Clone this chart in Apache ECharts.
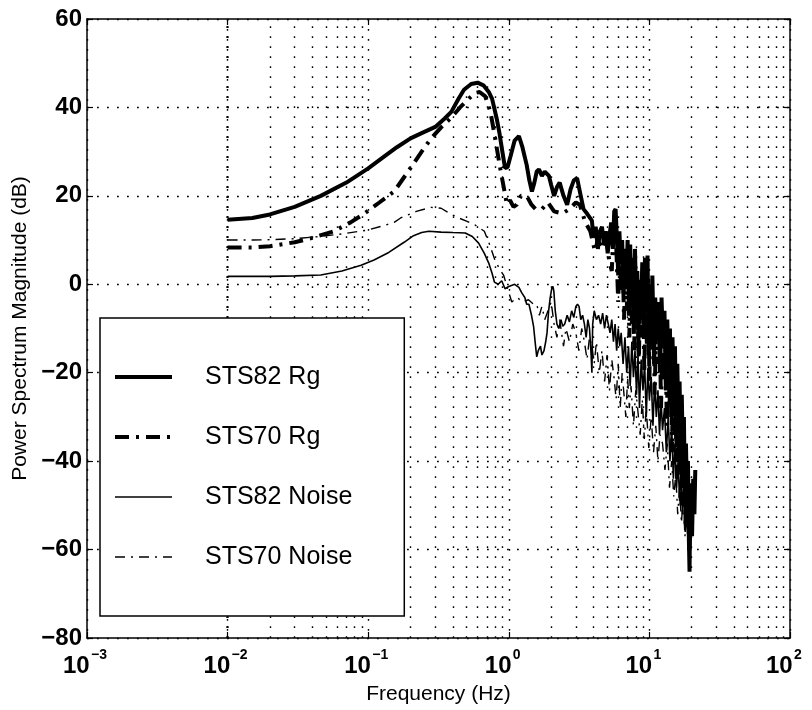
<!DOCTYPE html>
<html>
<head>
<meta charset="utf-8">
<script src="https://cdn.jsdelivr.net/npm/echarts@6/dist/echarts.min.js"></script>
<style>
html,body{margin:0;padding:0;background:#fff;}
#c{width:812px;height:710px;}
</style>
</head>
<body>
<div id="c"></div>
<script>
// ---- data ----
const yTicks = [-80, -60, -40, -20, 0, 20, 40, 60];
const xDecades = [0.001, 0.01, 0.1, 1, 10, 100];
const minorMultipliers = [2, 3, 4, 5, 6, 7, 8, 9];

const seriesNames = ['STS82 Rg', 'STS70 Rg', 'STS82 Noise', 'STS70 Noise'];

const sts82RgFreq = [0.01,0.015,0.02,0.03,0.046,0.07,0.1,0.124,0.16,0.2,0.24,0.3,0.35,0.39,0.44,0.48,0.54,0.6,0.66,0.72,0.76,0.82,0.86,0.9,0.94,0.98,1.03,1.1,1.18,1.25,1.34,1.4,1.46,1.52,1.58,1.64,1.72,1.8,1.93,2.0,2.1,2.2,2.3,2.45,2.6,2.75,2.9,3.06,3.2,3.4,3.6,3.9,
4.0,4.15,4.3,4.45,4.6,4.75,4.9,5.05,5.2,5.35,5.5,5.62,5.75,5.88,6.0,6.12,6.25,6.4,6.55,6.7,6.85,7.0,7.15,7.3,7.45,7.6,7.75,7.9,8.05,8.2,8.35,8.5,8.7,8.9,9.1,9.3,9.5,9.7,9.9,10.1,10.3,10.5,10.8,11.0,11.3,11.6,11.9,12.2,12.5,12.8,13.1,13.4,13.7,14.0,14.3,14.6,14.9,15.2,15.5,15.8,16.1,16.4,16.7,17.0,17.3,17.6,17.9,18.2,18.5,18.8,19.1,19.3,19.5,19.8,20.1,20.5,20.9,21.2];
const sts82RgDb = [14.6,15.0,15.8,17.5,20,23,26.2,28.4,31,33,34.2,35.6,37.5,39,42,44,45.3,45.6,45,43.5,42,37.5,34,30,26.3,26.5,29,32.5,33.5,31,27,23.5,21,23,25.5,26,24.5,25.5,24.5,22.5,20,22,23,20,18,21.5,23.5,24,21,17,16,14.4,
10.5,13,8,12,13,9,12,7,11,14,8,16.5,17,10,2,12,4.5,10,-2,8,0,10,-6,9,-3,6,-10,8,-5,3,-14,1,-8,5,-12,6,-4,6.5,-16,0,-9,2,-18,-3,-12,-4,-20,-3,-14,-6,-24,-8,-20,-10,-30,-12,-26,-14,-35,-18,-32,-22,-42,-25,-40,-30,-50,-36,-48,-40,-58,-65,-50,-45,-57,-44,-52,-42];

const sts70RgFreq = [0.01,0.015,0.02,0.03,0.04,0.057,0.075,0.094,0.12,0.153,0.2,0.24,0.28,0.33,0.39,0.45,0.52,0.58,0.62,0.68,0.74,0.8,0.86,0.92,0.97,1.02,1.08,1.14,1.22,1.34,1.45,1.55,1.72,1.9,2.1,2.4,2.7,3.0,3.2,3.5,3.8,4.1,4.3,4.6,4.9,5.2,5.4,
5.55,5.7,5.85,6.0,6.15,6.3,6.45,6.6,6.75,6.9,7.05,7.2,7.35,7.5,7.65,7.8,7.95,8.1,8.25,8.4,8.6,8.8,9.0,9.2,9.4,9.6,9.8,10.0,10.2,10.4,10.7,10.9,11.2,11.5,11.8,12.1,12.4,12.7,13.0,13.3,13.6,13.9,14.2,14.5,14.8,15.1,15.4,15.7,16.0,16.3,16.6,16.9,17.2,17.5,17.8,18.1,18.4,18.7,19.0,19.2,19.5,19.9,20.3];
const sts70RgDb = [8.3,8.3,8.6,9.5,10.5,12,14,16,18.5,21,26.3,30,33,35.5,37.7,40,42,43.3,43.5,42.5,39,33,27,22,18,19,17.5,18,20,20,18,17,17,18.5,16.5,16,17,18.5,18,14,12,7.5,10,8,11,5,3,
12,15.5,6,-4,8,-2,6,-8,4,-6,5,-12,3,-9,2,-15,4,-10,0,-18,-2,-12,2,-20,-3,-14,1,-22,-5,-15,-4,-25,-8,-18,-6,-28,-8,-22,-10,-32,-12,-28,-14,-38,-16,-34,-20,-44,-24,-40,-28,-50,-32,-46,-38,-55,-42,-52,-46,-60,-48,-55,-46];

const sts82NoiseFreq = [0.01,0.02,0.03,0.046,0.065,0.089,0.11,0.14,0.18,0.21,0.24,0.27,0.33,0.4,0.49,0.55,0.61,0.67,0.72,0.76,0.79,0.84,0.89,0.94,1.0,1.1,1.18,1.24,1.3,1.34,1.39,1.45,1.5,1.55,1.58,1.62,1.68,1.72,1.78,1.83,1.87,1.92,1.97,2.02,2.06,2.09,2.14,2.2,2.27,2.35,2.42,2.5,2.6,2.7,2.8,2.9,3.0,3.08,3.16,3.25,3.35,3.45,3.55,3.65,3.75,3.85,3.9,3.95,4.05,4.2,4.35,4.5,4.65,4.8,4.95,5.1,5.25,5.4,5.55,5.7,5.85,6.0,6.15,6.3,6.5,6.7,6.9,7.1,7.3,7.5,7.7,7.9,8.1,8.3,8.5,8.75,9.0,9.25,9.5,9.75,10.0,10.3,10.6,10.9,11.2,11.5,11.8,12.1,12.4,12.8,13.2,13.6,14.0,14.4,14.8,15.2,15.6,16.0,16.4,16.8,17.2,17.6,18.0,18.4,18.8,19.2,19.6,20.0];
const sts82NoiseDb = [1.8,1.8,1.9,2.1,3,4.3,5.5,7.2,9.5,11,11.7,12,11.8,11.7,11.6,10.8,9.3,7,4.8,2.5,0.5,0,0.8,-1,-0.5,0,-0.7,-2,-3,-4.5,-4.5,-7,-9.5,-14,-16.4,-15,-14,-16,-15,-13,-11,-6,-3,-1,-0.5,-1.5,-6,-9,-10,-8,-9.5,-9,-7,-8.5,-6,-7.5,-5,-4.5,-5,-8,-7,-9,-12,-8,-10,-16,-20,-9,-6,-8,-7,-9,-6.5,-10,-7,-6.7,-11,-8,-13,-9,-15,-10,-14,-11,-18,-12,-20,-14,-23,-13,-21,-15,-25,-16,-28,-17,-24,-18,-30,-19,-26,-21,-32,-22,-30,-24,-34,-26,-33,-28,-38,-30,-40,-32,-44,-36,-46,-40,-49,-42,-52,-45,-56,-48,-58,-52,-60,-54];

const sts70NoiseFreq = [0.01,0.015,0.02,0.03,0.045,0.065,0.097,0.13,0.153,0.17,0.22,0.28,0.33,0.38,0.44,0.5,0.57,0.67,0.73,0.8,0.86,0.92,0.98,1.05,1.15,1.25,1.38,1.5,1.58,1.65,1.72,1.8,1.9,2.0,2.1,2.2,2.3,2.45,2.55,2.7,2.85,3.0,3.15,3.3,3.45,3.6,3.75,3.9,4.05,4.2,4.4,4.6,4.8,5.0,5.2,5.4,5.6,5.8,6.0,6.2,6.4,6.6,6.8,7.0,7.2,7.4,7.7,8.0,8.3,8.6,8.9,9.2,9.5,9.9,10.3,10.7,11.1,11.5,11.9,12.4,12.9,13.4,13.9,14.4,14.9,15.4,15.9,16.4,16.9,17.4,17.9,18.4,18.9,19.4];
const sts70NoiseDb = [10,10,10.1,10.3,10.8,11.4,12.2,13.3,14,15,16.5,17.4,17.2,16,15,14.3,13.5,12,9,5.3,3.5,2,-1,-4,-3,-4,-3.5,-4.5,-4.5,-7,-5,-8,-6,-4,-9,-12,-8,-14,-10,-13,-9,-11,-15,-10,-13,-17,-12,-14,-18,-13,-20,-15,-22,-16,-24,-17,-21,-26,-18,-28,-20,-25,-30,-21,-28,-23,-32,-24,-29,-34,-26,-35,-28,-37,-30,-38,-32,-40,-34,-36,-42,-36,-46,-40,-48,-43,-52,-46,-54,-48,-57,-52,-60,-55];

// ---- build ----
const FONT = '"Liberation Sans", Arial, Helvetica, sans-serif';
function pairs(f, d){ return f.map((x,i)=>[x, d[i]]); }
const minorGrid = [];
xDecades.slice(0, -1).forEach(d => minorMultipliers.forEach(m => minorGrid.push(d * m)));

const dotted = {color:'#000', width:1.4, type:[1.8, 8.2]};
const styles = [
  {color:'#000', width:4, type:'solid'},
  {color:'#000', width:4, type:[14,7,3,7]},
  {color:'#000', width:1.6, type:'solid'},
  {color:'#000', width:1.4, type:[10,6,2,6]}
];

const chart = echarts.init(document.getElementById('c'), null, {renderer:'canvas'});
const supMinus = s => s.replace('-', '\u2212');

const option = {
  animation:false,
  backgroundColor:'#fff',
  textStyle:{fontFamily:FONT, color:'#000'},
  grid:{left:87, right:22, top:19, bottom:72, containLabel:false, outerBoundsMode:'none'},
  legend:{
    data:seriesNames.map((n,i)=>({name:n, lineStyle:styles[i]})),
    orient:'vertical',
    left:100, top:318,
    padding:[45, 52, 45, 13],
    itemWidth:57, itemHeight:20,
    itemGap:32,
    backgroundColor:'#fff',
    borderColor:'#000', borderWidth:1.5,
    z:20,
    selectedMode:false,
    itemStyle:{opacity:0},
    textStyle:{fontSize:25, fontFamily:FONT, color:'#000', padding:[0,0,0,28], lineHeight:28}
  },
  xAxis:[{
    type:'log', logBase:10, min:0.001, max:100,
    name:'Frequency (Hz)', nameLocation:'middle', nameGap:46,
    nameTextStyle:{fontSize:21, fontFamily:FONT, color:'#000'},
    axisLine:{show:true, onZero:false, lineStyle:{color:'#000', width:1.5}},
    axisTick:{show:true, inside:true, length:6, lineStyle:{color:'#000', width:1.2}},
    splitLine:{show:true, lineStyle:dotted},
    axisLabel:{
      margin:15,
      formatter: v => '{s|' + supMinus(String(Math.round(Math.log10(v)))) + '}\n{b|10}',
      rich:{
        b:{fontSize:24, fontWeight:'bold', fontFamily:FONT, color:'#000', lineHeight:18, width:48, align:'left'},
        s:{fontSize:14, fontWeight:'bold', fontFamily:FONT, color:'#000', lineHeight:4, width:20, align:'left', padding:[0,0,0,28]}
      }
    }
  },{
    type:'log', logBase:10, min:0.001, max:100, position:'top',
    axisLine:{show:true, onZero:false, lineStyle:{color:'#000', width:1.5}},
    axisTick:{show:true, inside:true, length:6, lineStyle:{color:'#000', width:1.2}},
    axisLabel:{show:false}, splitLine:{show:false}
  }],
  yAxis:[{
    type:'value', min:-80, max:60, interval:20,
    name:'Power Spectrum Magnitude (dB)', nameLocation:'middle', nameGap:53, nameRotate:90,
    nameTextStyle:{fontSize:21, fontFamily:FONT, color:'#000'},
    axisLine:{show:true, onZero:false, lineStyle:{color:'#000', width:1.5}},
    axisTick:{show:true, inside:true, length:6, lineStyle:{color:'#000', width:1.2}},
    splitLine:{show:true, lineStyle:dotted},
    axisLabel:{fontSize:24, fontWeight:'bold', fontFamily:FONT, color:'#000', margin:5,
      formatter: v => yTicks.includes(v) ? supMinus(String(v)) : ''}
  },{
    type:'value', min:-80, max:60, interval:20, position:'right',
    axisLine:{show:true, onZero:false, lineStyle:{color:'#000', width:1.5}},
    axisTick:{show:true, inside:true, length:6, lineStyle:{color:'#000', width:1.2}},
    axisLabel:{show:false}, splitLine:{show:false}
  }],
  series:[
    {name:seriesNames[0], type:'line', symbol:'none', data:pairs(sts82RgFreq, sts82RgDb),
     lineStyle:styles[0], itemStyle:{color:'#000'}, z:5,
     markLine:{silent:true, symbol:'none', label:{show:false}, z:1, animation:false,
       lineStyle:dotted, data:minorGrid.map(f => ({xAxis:f}))}},
    {name:seriesNames[1], type:'line', symbol:'none', data:pairs(sts70RgFreq, sts70RgDb),
     lineStyle:styles[1], itemStyle:{color:'#000'}, z:5},
    {name:seriesNames[2], type:'line', symbol:'none', data:pairs(sts82NoiseFreq, sts82NoiseDb),
     lineStyle:styles[2], itemStyle:{color:'#000'}, z:5},
    {name:seriesNames[3], type:'line', symbol:'none', data:pairs(sts70NoiseFreq, sts70NoiseDb),
     lineStyle:styles[3], itemStyle:{color:'#000'}, z:5}
  ]
};
chart.setOption(option);
</script>
</body>
</html>
